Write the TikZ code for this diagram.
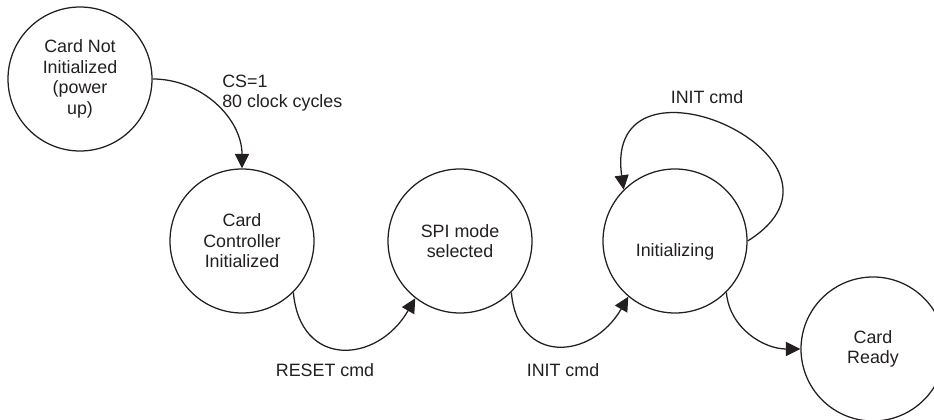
\documentclass[tikz,border=0pt]{standalone}
\usepackage{fontspec}
\setmainfont{Liberation Sans}
\usepackage{tikz}
\usetikzlibrary{arrows.meta}

\newcommand\statefont{\fontsize{12.7pt}{14.6pt}\selectfont}

\begin{document}
\begin{tikzpicture}[
  state/.style={circle, draw=ink, line width=0.9pt, minimum size=3.6cm, inner sep=0pt, align=center, text=ink, font=\statefont},
  trans/.style={draw=ink, line width=0.9pt, -{Triangle[length=3.6mm, width=3.5mm]}},
  cmd/.style={font=\statefont, text=ink, inner sep=0pt}
]
\definecolor{ink}{RGB}{35,31,32}
\useasboundingbox (0,0) rectangle (23.35,10.475);

% ---- STATES ----
\node[state] (notinit) at (2.0,8.5) {Card Not\\Initialized\\(power\\up)};
\node[state] (ctrl) at (6.05,4.45) {Card\\Controller\\Initialized};
\node[state] (spi) at (11.5,4.45) {SPI mode\\selected};
% text sits a bit below the centre here
\node[state, label={[cmd, name=initlbl, yshift=-2.75mm]center:Initializing}] (init) at (16.875,4.45) {};
\node[state] (ready) at (21.825,1.75) {Card\\Ready};

% ---- TRANSITIONS ----
\draw[trans] (notinit.east) to[out=0, in=90] (ctrl.north);
\draw[trans] (ctrl.-45) to[out=-85, in=-120, looseness=1.6] (spi.-128);
\draw[trans] (spi.-45) to[out=-85, in=-120, looseness=1.6] (init.-130);
% self loop
\draw[trans] (init.0) to[out=32, in=98, looseness=2.95] (init.135);
\draw[trans] (init.-45) to[out=-85, in=180] (ready.west);

% ---- LABELS ----
\node[cmd, align=left, anchor=west] (cslbl) at (5.55,8.15) {CS=1\\80 clock cycles};
\node[cmd] (resetlbl) at (8.125,1.225) {RESET cmd};
\node[cmd] (initcmd) at (14.075,1.225) {INIT cmd};
\node[cmd] (loopcmd) at (17.675,8.05) {INIT cmd};

\end{tikzpicture}
\end{document}
